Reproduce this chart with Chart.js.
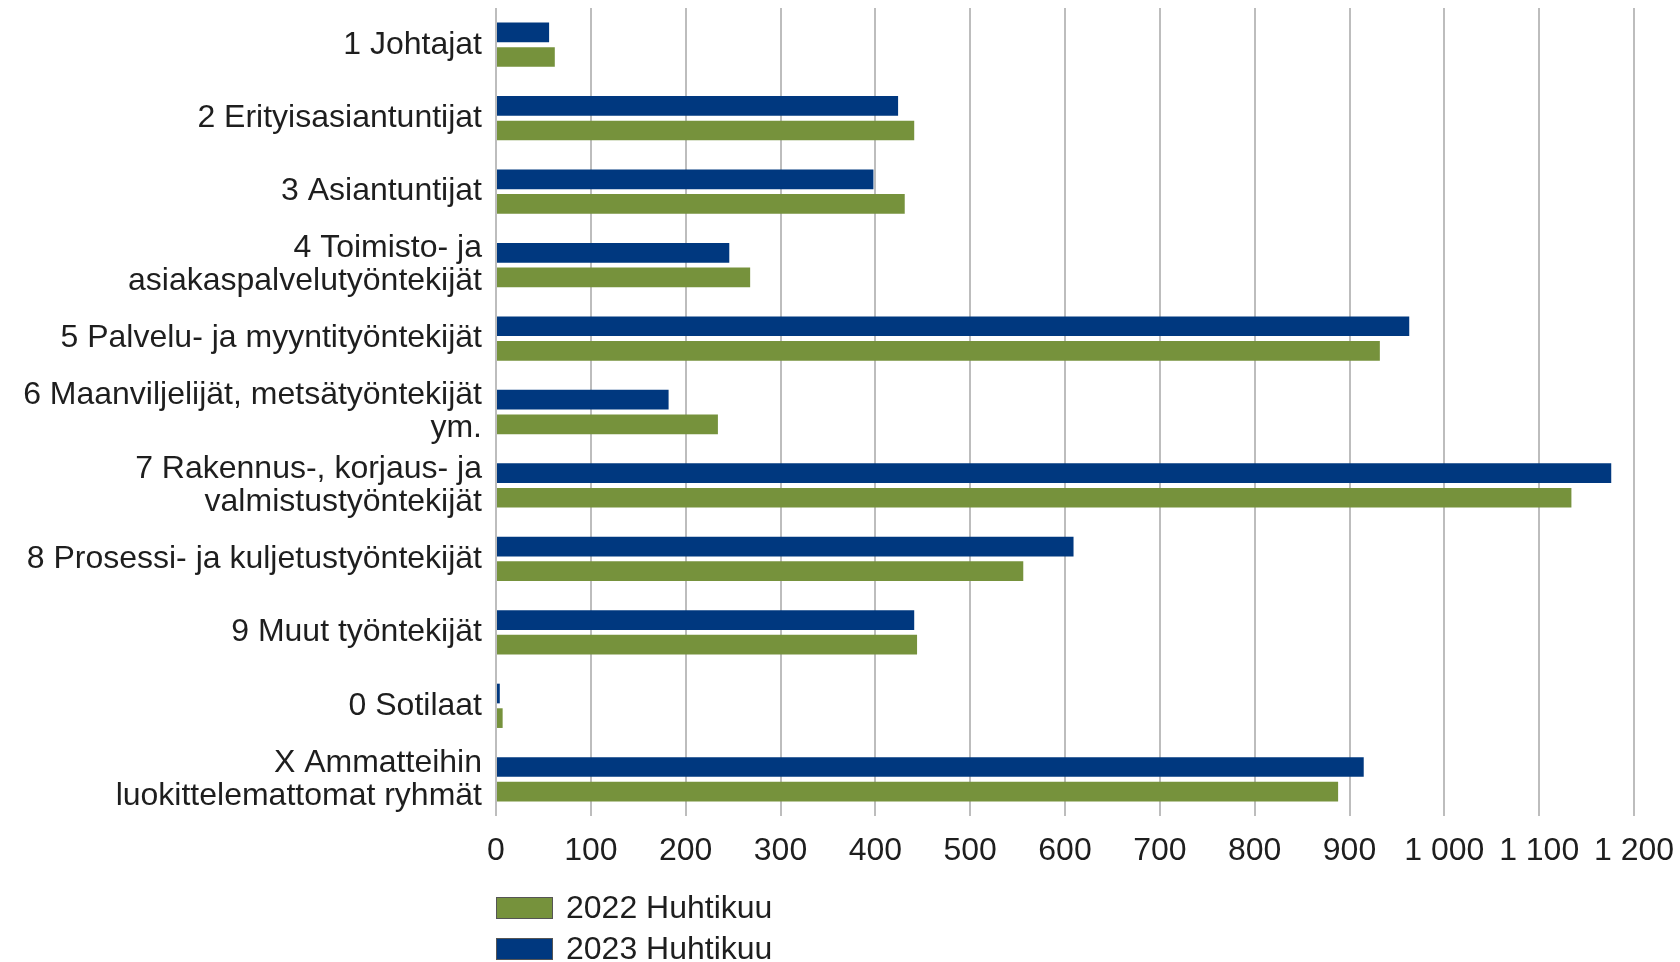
<!DOCTYPE html>
<html lang="fi">
<head>
<meta charset="utf-8">
<title>Ammattiryhmät</title>
<script src="https://cdn.jsdelivr.net/npm/chart.js@4.4.1/dist/chart.umd.min.js"></script>
<style>
    html, body { margin: 0; padding: 0; background: #fff; }
    #wrap { position: relative; width: 1680px; height: 962px; }
    #legend { position: absolute; left: 496px; top: 887px; font: 32px "Liberation Sans", Arial, sans-serif; color: #1e1e1e; }
    .item { display: flex; align-items: center; height: 41px; }
    .box { width: 55px; height: 20px; border: 1px solid #555; margin-right: 13px; }
</style>
</head>
<body>
<div id="wrap">
    <canvas id="chart" width="1680" height="962"></canvas>
    <div id="legend"></div>
</div>
<script>
    "use strict";

    // Data
    const categories = [
        '1 Johtajat',
        '2 Erityisasiantuntijat',
        '3 Asiantuntijat',
        ['4 Toimisto- ja', 'asiakaspalvelutyöntekijät'],
        '5 Palvelu- ja myyntityöntekijät',
        ['6 Maanviljelijät, metsätyöntekijät', 'ym.'],
        ['7 Rakennus-, korjaus- ja', 'valmistustyöntekijät'],
        '8 Prosessi- ja kuljetustyöntekijät',
        '9 Muut työntekijät',
        '0 Sotilaat',
        ['X Ammatteihin', 'luokittelemattomat ryhmät']
    ];
    const values2023 = [56, 424, 398, 246, 963, 182, 1176, 609, 441, 4, 915];
    const values2022 = [62, 441, 431, 268, 932, 234, 1134, 556, 444, 7, 888];
    const seriesLabels = ['2023 Huhtikuu', '2022 Huhtikuu'];
    const seriesColors = ['#00387f', '#76923c'];

    const font = { family: '"Liberation Sans", Arial, sans-serif', size: 32 };

    const chart = new Chart(document.getElementById('chart'), {
        type: 'bar',
        data: {
            labels: categories,
            datasets: [{
                label: seriesLabels[0],
                data: values2023,
                backgroundColor: seriesColors[0]
            }, {
                label: seriesLabels[1],
                data: values2022,
                backgroundColor: seriesColors[1]
            }]
        },
        options: {
            indexAxis: 'y',
            responsive: false,
            animation: false,
            categoryPercentage: 0.67,
            barPercentage: 0.8,
            layout: { padding: { top: 8, right: 46, left: 0, bottom: 0 } },
            plugins: {
                legend: { display: false },
                tooltip: { enabled: false }
            },
            scales: {
                x: {
                    min: 0,
                    max: 1200,
                    border: { display: false },
                    grid: { color: '#bdbdbd', lineWidth: 2, drawTicks: false },
                    ticks: {
                        stepSize: 100,
                        padding: 16,
                        color: '#1e1e1e',
                        font: font,
                        maxRotation: 0,
                        autoSkip: false,
                        callback: v => String(v).replace(/\B(?=(\d{3})+(?!\d))/g, ' ')
                    },
                    afterFit: s => {
                        s.height = 146;
                        s.paddingLeft = 0;
                        s.paddingRight = 0;
                    }
                },
                y: {
                    border: { display: false },
                    grid: { display: false },
                    ticks: { padding: 6, color: '#1e1e1e', font: { ...font, lineHeight: 1.03 }, autoSkip: false },
                    afterFit: s => {
                        s.width = 496;
                        s.paddingTop = 0;
                        s.paddingBottom = 0;
                    }
                }
            }
        }
    });

    // Legend (2022 first, like the original)
    const legend = document.getElementById('legend');
    chart.data.datasets.slice().reverse().forEach(ds => {
        const row = document.createElement('div');
        row.className = 'item';
        row.innerHTML = '<span class="box" style="background:' + ds.backgroundColor + '"></span>' + ds.label;
        legend.appendChild(row);
    });
</script>
</body>
</html>
